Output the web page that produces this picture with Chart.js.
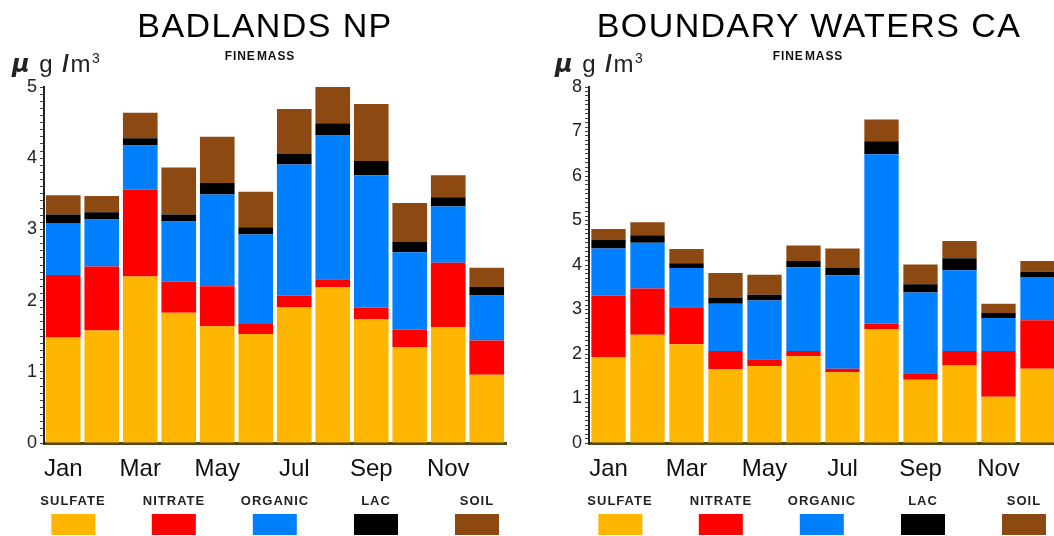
<!DOCTYPE html>
<html>
<head>
<meta charset="utf-8">
<script src="https://cdn.jsdelivr.net/npm/chart.js@4.4.1/dist/chart.umd.min.js"></script>
<style>
  html, body { margin: 0; padding: 0; background: #fff; overflow: hidden; }
  body { width: 1054px; height: 536px; position: relative; font-family: "Liberation Sans", Arial, sans-serif; }
  .box { position: absolute; top: 0; height: 536px; }
  .title { position: absolute; top: 8px; font-size: 34px; line-height: 34px; letter-spacing: 1.4px; color: #000; transform: translateX(-50%); white-space: nowrap; }
  .sub { position: absolute; top: 50px; font-size: 12px; line-height: 12px; font-weight: bold; color: #111; transform: translateX(-50%); white-space: nowrap; letter-spacing: 0.9px; word-spacing: -3px; }
  .unit { position: absolute; top: 44px; font-size: 24px; line-height: 28px; color: #222; white-space: nowrap; letter-spacing: 1.5px; }
  .unit .mu { font-family: "DejaVu Sans", sans-serif; font-weight: bold; font-style: italic; }
  .unit .sl { font-weight: bold; }
  .unit sup { font-size: 14px; vertical-align: 9px; }
  .leg { position: absolute; top: 494px; transform: translateX(-50%); text-align: center; }
  .leg span { display: block; font-size: 13px; line-height: 14px; font-weight: bold; letter-spacing: 1px; color: #222; white-space: nowrap; }
  .leg i { display: block; width: 44px; height: 21px; margin: 6px auto 0; }
</style>
</head>
<body>
<div class="box" style="left:0;width:527px"><canvas id="badlands"></canvas></div>
<div class="box" style="left:545px;width:520px"><canvas id="boundary"></canvas></div>

<div class="title" style="left:265px">BADLANDS NP</div>
<div class="title" style="left:809px">BOUNDARY WATERS CA</div>
<div class="sub" style="left:260px">FINE MASS</div>
<div class="sub" style="left:808px">FINE MASS</div>
<div class="unit" style="left:12px"><span class="mu">µ</span> g <span class="sl">/</span>m<sup>3</sup></div>
<div class="unit" style="left:555px"><span class="mu">µ</span> g <span class="sl">/</span>m<sup>3</sup></div>
<div id="legends"></div>

<script>
// Monthly averages, stacked species (µg/m³)
const months = ["Jan", "Feb", "Mar", "Apr", "May", "Jun", "Jul", "Aug", "Sep", "Oct", "Nov", "Dec"];
const speciesNames = ["SULFATE", "NITRATE", "ORGANIC", "LAC", "SOIL"];
const speciesColors = ["#FFB600", "#FF0000", "#0080FF", "#000000", "#8C4A12"];

// Badlands NP
const badSulfate = [1.48, 1.58, 2.34, 1.83, 1.64, 1.53, 1.91, 2.19, 1.74, 1.35, 1.63, 0.96];
const badNitrate = [0.88, 0.90, 1.22, 0.44, 0.56, 0.14, 0.16, 0.11, 0.16, 0.24, 0.90, 0.48];
const badOrganic = [0.73, 0.66, 0.62, 0.84, 1.29, 1.26, 1.84, 2.02, 1.86, 1.09, 0.79, 0.63];
const badLac = [0.12, 0.10, 0.10, 0.10, 0.16, 0.10, 0.15, 0.17, 0.20, 0.15, 0.13, 0.12];
const badSoil = [0.27, 0.23, 0.36, 0.66, 0.65, 0.50, 0.63, 0.51, 0.80, 0.54, 0.31, 0.27];

// Boundary Waters CA
const bwSulfate = [1.93, 2.43, 2.22, 1.66, 1.73, 1.95, 1.59, 2.56, 1.42, 1.74, 1.04, 1.67];
const bwNitrate = [1.38, 1.04, 0.83, 0.41, 0.15, 0.12, 0.08, 0.12, 0.15, 0.33, 1.03, 1.09];
const bwOrganic = [1.06, 1.03, 0.88, 1.06, 1.32, 1.88, 2.10, 3.81, 1.81, 1.81, 0.74, 0.97];
const bwLac = [0.19, 0.17, 0.11, 0.13, 0.13, 0.14, 0.16, 0.29, 0.19, 0.27, 0.11, 0.12];
const bwSoil = [0.25, 0.29, 0.32, 0.56, 0.45, 0.35, 0.44, 0.49, 0.44, 0.39, 0.21, 0.24];

const badYMax = 5;
const bwYMax = 8;

function isWhole(v) {
  return Math.abs(v - Math.round(v)) < 1e-6;
}

function makeChart(id, series, yMax, pad, barPct) {
  const ctx = document.getElementById(id).getContext("2d");
  return new Chart(ctx, {
    type: "bar",
    data: {
      labels: months,
      datasets: series.map((vals, i) => ({
        label: speciesNames[i],
        data: vals,
        backgroundColor: speciesColors[i],
        borderWidth: 0,
        barPercentage: barPct,
        categoryPercentage: 1.0,
      })),
    },
    options: {
      responsive: true,
      maintainAspectRatio: false,
      animation: false,
      layout: { padding: pad },
      plugins: {
        legend: { display: false },
        tooltip: { enabled: false },
      },
      scales: {
        x: {
          stacked: true,
          grid: { display: false },
          border: { display: true, color: "#4a4a1c", width: 3 },
          ticks: {
            autoSkip: false,
            maxRotation: 0,
            padding: 4,
            color: "#111",
            font: { family: "Liberation Sans", size: 24 },
            callback: (v, i) => (i % 2 === 0 ? months[i] : ""),
          },
          afterFit: (s) => { s.height = 93; },
        },
        y: {
          stacked: true,
          min: 0,
          max: yMax,
          grid: { drawOnChartArea: false, drawTicks: true, tickLength: 4, tickColor: "#444" },
          border: { display: true, color: "#222", width: 2 },
          ticks: {
            stepSize: 0.1,
            maxTicksLimit: 200,
            autoSkip: false,
            padding: 3,
            color: "#222",
            font: { family: "Liberation Sans", size: 18 },
            callback: (v) => (isWhole(v) ? String(Math.round(v)) : ""),
          },
          afterFit: (s) => { s.width = 44; },
        },
      },
    },
  });
}

makeChart("badlands", [badSulfate, badNitrate, badOrganic, badLac, badSoil], badYMax,
  { top: 87, right: 21, left: 0, bottom: 0 }, 0.9);
makeChart("boundary", [bwSulfate, bwNitrate, bwOrganic, bwLac, bwSoil], bwYMax,
  { top: 87, right: 8, left: 0, bottom: 0 }, 0.88);

// Legends drawn under each chart
const legendStarts = [73, 620];
const legendStep = 101;
const legendHost = document.getElementById("legends");
legendStarts.forEach((x0) => {
  speciesNames.forEach((name, i) => {
    const d = document.createElement("div");
    d.className = "leg";
    d.style.left = (x0 + i * legendStep) + "px";
    d.innerHTML = `<span>${name}</span><i style="background:${speciesColors[i]}"></i>`;
    legendHost.appendChild(d);
  });
});
</script>
</body>
</html>
